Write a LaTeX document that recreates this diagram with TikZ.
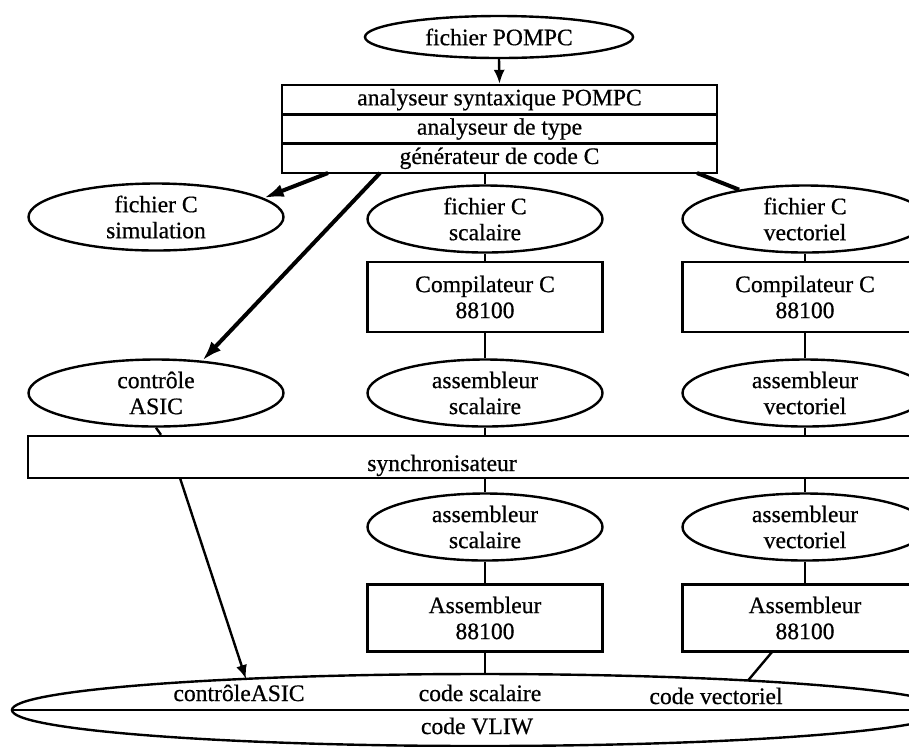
\documentclass[tikz,border=0pt]{standalone}
\usepackage{fontspec}
\setmainfont{Liberation Serif}[FakeBold=0.6]
\usepackage{tikz}
\usetikzlibrary{shapes.geometric,arrows.meta}

\begin{document}
\begin{tikzpicture}[x=0.5pt,y=-0.5pt,
  font=\fontsize{11.8}{13}\selectfont,
  oval/.style={draw, ellipse, line width=1.2pt, inner sep=0pt, align=center},
  bloc/.style={draw, rectangle, line width=1.2pt, inner sep=0pt, align=center},
  lien/.style={line width=1.2pt},
  fleche/.style={line width=1.2pt, -{Latex[length=7pt,width=5.5pt]}},
  grosse/.style={line width=2pt, -{Latex[length=10pt,width=6.5pt]}}]
\useasboundingbox (0,0) rectangle (909,746);
\clip (0,0) rectangle (909,746);
% compilateur POMPC
\node[oval, minimum width=134pt, minimum height=21pt] (pompc) at (499,37) {fichier POMPC};
\node[bloc, minimum width=217.5pt, minimum height=14.67pt] (syn) at (499.5,99.7) {analyseur syntaxique POMPC};
\node[bloc, minimum width=217.5pt, minimum height=14.67pt] (typ) at (499.5,129) {analyseur de type};
\node[bloc, minimum width=217.5pt, minimum height=14.67pt] (gen) at (499.5,158.3) {générateur de code C};
% fichiers C
\node[oval, minimum width=127.5pt, minimum height=33.5pt] (sim) at (156,217) {fichier C\\simulation};
\node[oval, minimum width=117.5pt, minimum height=33.5pt] (scal) at (485,219) {fichier C\\scalaire};
\node[oval, minimum width=122.5pt, minimum height=33.5pt] (vect) at (805,219) {fichier C\\vectoriel};
\node[bloc, minimum width=117.5pt, minimum height=35pt] (comp1) at (485,297) {Compilateur C\\88100};
\node[bloc, minimum width=122.5pt, minimum height=35pt] (comp2) at (805,297) {Compilateur C\\88100};
\node[oval, minimum width=127.5pt, minimum height=33.5pt] (ctrl) at (156,393) {contrôle\\ASIC};
\node[oval, minimum width=117.5pt, minimum height=33.5pt] (asm1) at (485,393) {assembleur\\scalaire};
\node[oval, minimum width=122.5pt, minimum height=33.5pt] (asm2) at (805,393) {assembleur\\vectoriel};
% synchronisation
\node[bloc, minimum width=466pt, minimum height=21pt] (sync) at (494,457) {};
\node[anchor=base] (synct) at (442,471) {synchronisateur};
\node[oval, minimum width=117.5pt, minimum height=33.5pt] (asm3) at (485,527) {assembleur\\scalaire};
\node[oval, minimum width=122.5pt, minimum height=33.5pt] (asm4) at (805,527) {assembleur\\vectoriel};
\node[bloc, minimum width=117.5pt, minimum height=33.5pt] (ass1) at (485,618) {Assembleur\\88100};
\node[bloc, minimum width=122.5pt, minimum height=33.5pt] (ass2) at (805,618) {Assembleur\\88100};
% code VLIW
\node[oval, minimum width=468pt, minimum height=36pt] (vliw) at (480,710) {};
\node[anchor=base] (vasic) at (239,701) {contrôleASIC};
\node[anchor=base] (vscal) at (480,701) {code scalaire};
\node[anchor=base] (vvect) at (716,704) {code vectoriel};
\node[anchor=base] (vcode) at (477,734) {code VLIW};
\draw[lien] (vliw.west) -- (vliw.east);

\coordinate (g1) at (328,173);
\coordinate (g2) at (380,173);
\coordinate (g3) at (697,173);
\coordinate (s1) at (180,478);
\coordinate (vin) at (246,679);
\coordinate (a2) at (772,652);
\coordinate (vout) at (748,680.5);

\draw[fleche] (pompc.south) -- (syn.north);
\draw[grosse] (g1) -- (sim.10);
\draw[grosse] (g2) -- (ctrl.35);
\draw[lien] (scal.north |- gen.south) -- (scal.north);
\draw[line width=2pt] (g3) -- (vect.156);
\draw[lien] (scal.south) -- (comp1.north);
\draw[lien] (vect.south) -- (comp2.north);
\draw[lien] (comp1.south) -- (asm1.north);
\draw[lien] (comp2.south) -- (asm2.north);
\draw[lien] (ctrl.south) -- ([xshift=2.5pt]ctrl.south |- sync.north);
\draw[lien] (asm1.south) -- (asm1.south |- sync.north);
\draw[lien] (asm2.south) -- (asm2.south |- sync.north);
\draw[lien] (asm3.north |- sync.south) -- (asm3.north);
\draw[lien] (asm4.north |- sync.south) -- (asm4.north);
\draw[lien] (asm3.south) -- (ass1.north);
\draw[lien] (asm4.south) -- (ass2.north);
\draw[lien] (ass1.south) -- (ass1.south |- vliw.north);
\draw[lien] (a2) -- (vout);
\draw[fleche] (s1) -- (vin);
\end{tikzpicture}
\end{document}
